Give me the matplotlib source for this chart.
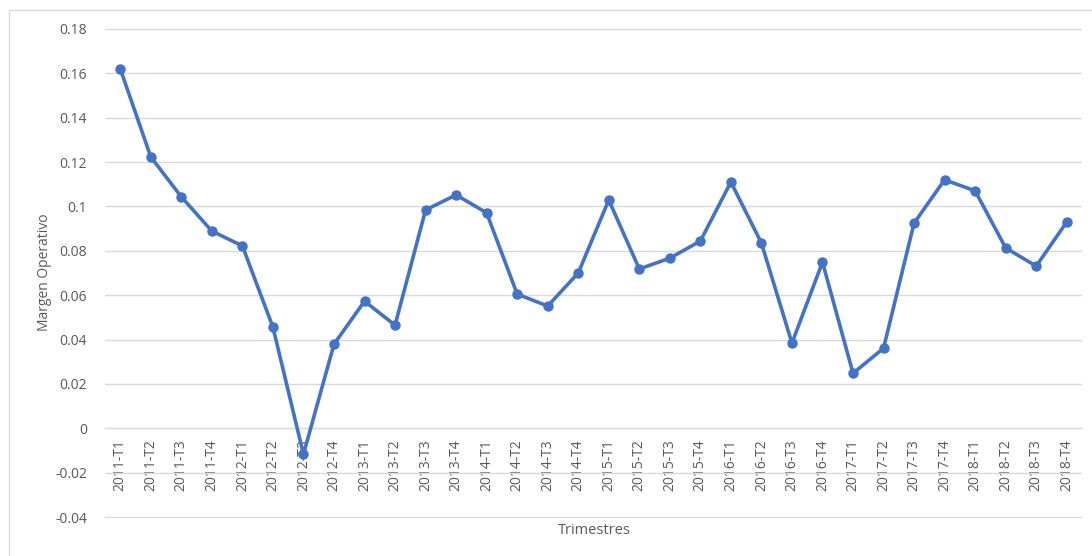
import matplotlib.pyplot as plt
from matplotlib.patches import Rectangle

plt.rcParams['font.family'] = ['Open Sans', 'DejaVu Sans']

# Trimestres 2011-2018
trimestres = [f"{a}-T{t}" for a in range(2011, 2019) for t in range(1, 5)]
margen = [0.162, 0.1223, 0.1043, 0.0889, 0.0822, 0.0456, -0.0117, 0.0379,
          0.0573, 0.0465, 0.0984, 0.1052, 0.0971, 0.0605, 0.0551, 0.070,
          0.1029, 0.0718, 0.0767, 0.0844, 0.111, 0.0835, 0.0384, 0.0749,
          0.0248, 0.0361, 0.0925, 0.112, 0.107, 0.0813, 0.0731, 0.093]
yticks = [-0.04, -0.02, 0, 0.02, 0.04, 0.06, 0.08, 0.1, 0.12, 0.14, 0.16, 0.18]
ytick_labels = ["-0.04", "-0.02", "0", "0.02", "0.04", "0.06", "0.08", "0.1",
                "0.12", "0.14", "0.16", "0.18"]

gris = '#595959'
fig = plt.figure(figsize=(10.92, 5.56), dpi=100)
ax = fig.add_axes([105/1092, 1 - 518/556, (1082 - 105)/1092, (518 - 28)/556])

# borde del area del grafico
fig.patches.append(Rectangle((9/1092, -0.1), 1.2, 1 - 10/556 + 0.1,
                             transform=fig.transFigure, fill=False,
                             edgecolor='#d9d9d9', linewidth=1))

x = list(range(len(trimestres)))
ax.plot(x, margen, color='#4472C4', linewidth=2.6, marker='o',
        markersize=6.5, zorder=3)

ax.set_xlim(-0.5, len(trimestres) - 0.5)
ax.set_ylim(-0.0404, 0.1804)
ax.set_yticks(yticks)
ax.set_yticklabels(ytick_labels)
ax.grid(axis='y', color='#d9d9d9', linewidth=1)
ax.set_axisbelow(True)

for s in ['top', 'right', 'left']:
    ax.spines[s].set_visible(False)
ax.spines['bottom'].set_position(('data', 0))
ax.spines['bottom'].set_color('#d9d9d9')

ax.set_xticks(x)
ax.set_xticklabels(trimestres, rotation=90)
ax.tick_params(axis='x', length=0, pad=8, labelsize=10, colors=gris)
ax.tick_params(axis='y', length=0, pad=13, labelsize=10, colors=gris)

fig.text(44/1092, 1 - 272/556, 'Margen Operativo', rotation=90,
         ha='center', va='center', fontsize=10, color=gris)
fig.text(594/1092, 1 - 530/556, 'Trimestres', ha='center', va='center',
         fontsize=10.5, color=gris)

fig.savefig('out.png', dpi=100)
